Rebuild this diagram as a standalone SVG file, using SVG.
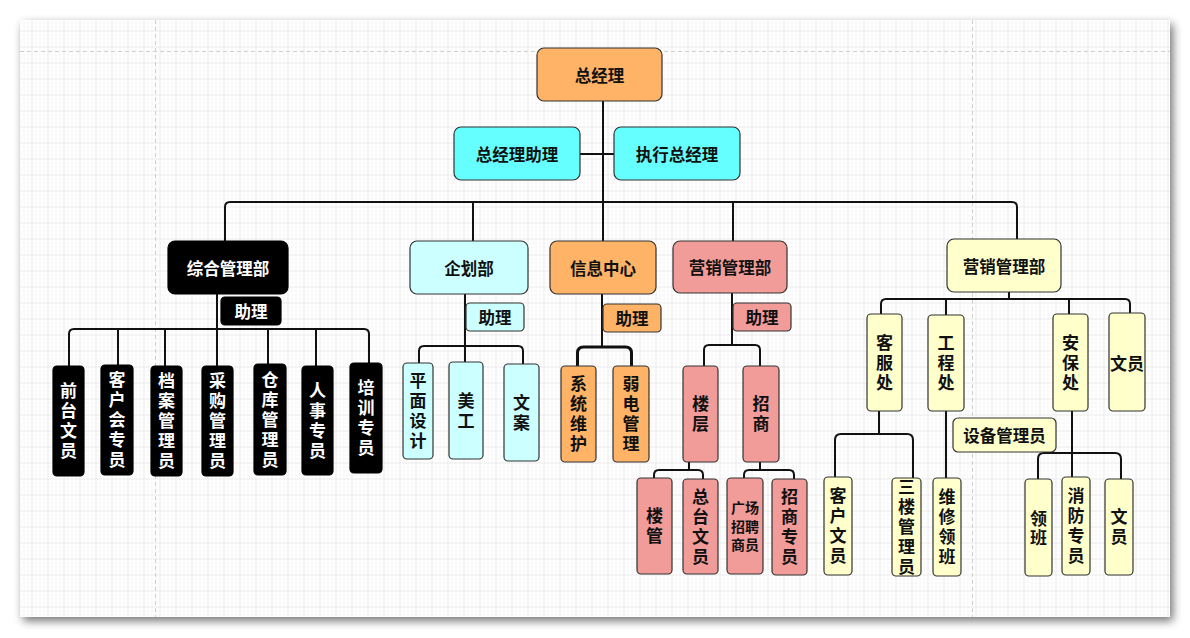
<svg xmlns="http://www.w3.org/2000/svg" width="1190" height="638" viewBox="0 0 1190 638">
<defs>
<filter id="sh" x="-5%" y="-5%" width="110%" height="115%">
<feGaussianBlur in="SourceAlpha" stdDeviation="5"/>
<feOffset dx="3" dy="4" result="b"/>
<feComponentTransfer><feFuncA type="linear" slope="0.55"/></feComponentTransfer>
<feMerge><feMergeNode/><feMergeNode in="SourceGraphic"/></feMerge>
</filter>
<pattern id="minor" patternUnits="userSpaceOnUse" x="15.5" y="14.5" width="4" height="4">
<path d="M0 0 H4 M0 0 V4" fill="none" stroke="#f1f1f1" stroke-width="1"/>
</pattern>
<pattern id="major" patternUnits="userSpaceOnUse" x="15.5" y="14.5" width="16" height="16">
<path d="M0 0 H16 M0 0 V16" fill="none" stroke="#e2e2e2" stroke-width="1"/>
</pattern>
<style>
.n{stroke:#333;stroke-width:1.2}
.or{fill:#FFB366}.cy{fill:#66FFFF}.lc{fill:#CCFFFF}.bk{fill:#000;stroke:#000}.pk{fill:#F19C99}.ye{fill:#FFFFCC}
text{font-family:"Noto Sans CJK SC","Noto Sans",sans-serif;font-weight:bold;font-size:17px;text-anchor:middle;dominant-baseline:central;fill:#111}
.v{writing-mode:vertical-rl;letter-spacing:3px}
.w{fill:#fff}
.h{font-size:16.5px}
.s{font-size:14px}
.c path{fill:none;stroke:#111;stroke-width:2;stroke-linejoin:round}
.pb{stroke:#cfcfcf;stroke-width:1;stroke-dasharray:4 3;fill:none}
</style>
</defs>
<rect width="1190" height="638" fill="#ffffff"/>
<rect x="20" y="20" width="1150" height="597" fill="#fff" filter="url(#sh)"/>
<rect x="20" y="20" width="1150" height="597" fill="url(#minor)"/>
<rect x="20" y="20" width="1150" height="597" fill="url(#major)"/>
<path class="pb" d="M155.5 20 V617 M972.5 20 V617 M20 51.5 H1170"/>

<g class="c" id="connectors">
<path d="M603 101 V241"/>
<path d="M580 154 H614"/>
<path d="M225 241 V207 Q225 202 230 202 H1012 Q1017 202 1017 207 V239"/>
<path d="M473 202 V241 M733 202 V241"/>
<path d="M217 294 V366"/>
<path d="M69 366 V334 Q69 329 74 329 H364 Q369 329 369 334 V363"/>
<path d="M118 329 V365 M165 329 V366 M268 329 V364 M316 329 V366"/>
<path d="M465 294 V362"/>
<path d="M419 363 V351 Q419 346 424 346 H518 Q523 346 523 351 V364"/>
<path d="M602 294 V347"/>
<path d="M577.5 366 V353 Q577.5 347 583.5 347 H625.5 Q631.5 347 631.5 353 V366" style="stroke-width:3"/>
<path d="M732 293 V345"/>
<path d="M704 366 V350 Q704 345 709 345 H755 Q760 345 760 350 V366"/>
<path d="M689 462 V470"/>
<path d="M654 478 V475 Q654 470 659 470 H698 Q703 470 703 475 V479"/>
<path d="M760 462 V470"/>
<path d="M744 478 V475 Q744 470 749 470 H789 Q794 470 794 475 V479"/>
<path d="M1009 292 V299"/>
<path d="M881 314 V304 Q881 299 886 299 H1125 Q1130 299 1130 304 V313"/>
<path d="M946 299 V315 M1069 299 V314"/>
<path d="M879 411 V434"/>
<path d="M835 477 V440 Q835 434 841 434 H907 Q913 434 913 440 V478"/>
<path d="M946 411 V478"/>
<path d="M1072 411 V477"/>
<path d="M1038 479 V459 Q1038 453 1044 453 H1115 Q1121 453 1121 459 V479"/>
</g>

<g id="gm"><rect class="n or" x="537" y="48" width="125" height="53" rx="7"/><text class="h" x="599.5" y="75">总经理</text></g>
<g id="gm_assistant"><rect class="n cy" x="454" y="127" width="126" height="53" rx="7"/><text class="h" x="517" y="154">总经理助理</text></g>
<g id="exec_gm"><rect class="n cy" x="614" y="127" width="126" height="53" rx="7"/><text class="h" x="677" y="154">执行总经理</text></g>

<g id="zonghe"><rect class="n bk" x="168" y="241" width="120" height="53" rx="7"/><text class="h w" x="228" y="268">综合管理部</text></g>
<g id="zonghe_asst"><rect class="n bk" x="221" y="297" width="60" height="28" rx="4"/><text class="h w" x="251" y="311">助理</text></g>
<g id="qiantai"><rect class="n bk" x="53" y="366" width="31" height="110" rx="4"/><text class="v w" x="68.5" y="422.5">前台文员</text></g>
<g id="kehuhui"><rect class="n bk" x="101" y="365" width="32" height="110" rx="4"/><text class="v w" x="117" y="421.5">客户会专员</text></g>
<g id="dangan"><rect class="n bk" x="151" y="366" width="31" height="110" rx="4"/><text class="v w" x="166.5" y="422.5">档案管理员</text></g>
<g id="caigou"><rect class="n bk" x="202" y="366" width="31" height="110" rx="4"/><text class="v w" x="217.5" y="422.5">采购管理员</text></g>
<g id="cangku"><rect class="n bk" x="254" y="364" width="32" height="111" rx="4"/><text class="v w" x="270" y="421">仓库管理员</text></g>
<g id="renshi"><rect class="n bk" x="302" y="366" width="31" height="109" rx="4"/><text class="v w" x="317.5" y="422">人事专员</text></g>
<g id="peixun"><rect class="n bk" x="350" y="363" width="32" height="110" rx="4"/><text class="v w" x="366" y="419.5">培训专员</text></g>

<g id="qihua"><rect class="n lc" x="410" y="241" width="118" height="53" rx="7"/><text class="h" x="469" y="268">企划部</text></g>
<g id="qihua_asst"><rect class="n lc" x="466" y="303" width="58" height="28" rx="4"/><text class="h" x="495" y="317">助理</text></g>
<g id="pingmian"><rect class="n lc" x="403" y="363" width="30" height="96" rx="4"/><text class="v" x="418" y="412.5">平面设计</text></g>
<g id="meigong"><rect class="n lc" x="449" y="362" width="34" height="97" rx="4"/><text class="v" x="466" y="412">美工</text></g>
<g id="wenan"><rect class="n lc" x="504" y="364" width="35" height="97" rx="4"/><text class="v" x="521.5" y="414">文案</text></g>

<g id="xinxi"><rect class="n or" x="550" y="241" width="106" height="53" rx="7"/><text class="h" x="603" y="268">信息中心</text></g>
<g id="xinxi_asst"><rect class="n or" x="603" y="304" width="58" height="28" rx="4"/><text class="h" x="632" y="318">助理</text></g>
<g id="xitong"><rect class="n or" x="561" y="366" width="35" height="96" rx="4"/><text class="v" x="578.5" y="415.5">系统维护</text></g>
<g id="ruodian"><rect class="n or" x="613" y="366" width="36" height="96" rx="4"/><text class="v" x="631" y="415.5">弱电管理</text></g>

<g id="yingxiao1"><rect class="n pk" x="673" y="241" width="114" height="52" rx="7"/><text class="h" x="730" y="267">营销管理部</text></g>
<g id="yingxiao1_asst"><rect class="n pk" x="733" y="303" width="58" height="28" rx="4"/><text class="h" x="762" y="317">助理</text></g>
<g id="louceng"><rect class="n pk" x="683" y="366" width="35" height="96" rx="4"/><text class="v" x="700.5" y="415.5">楼层</text></g>
<g id="zhaoshang"><rect class="n pk" x="743" y="366" width="36" height="96" rx="4"/><text class="v" x="761" y="415.5">招商</text></g>
<g id="louguan"><rect class="n pk" x="637" y="478" width="35" height="96" rx="4"/><text class="v" x="654.5" y="527.5">楼管</text></g>
<g id="zongtai"><rect class="n pk" x="683" y="479" width="35" height="95" rx="4"/><text class="v" x="700.5" y="528">总台文员</text></g>
<g id="guangchang"><rect class="n pk" x="727" y="478" width="36" height="96" rx="4"/><text class="s"><tspan x="745" y="507">广场</tspan><tspan x="745" y="525.5">招聘</tspan><tspan x="745" y="544">商员</tspan></text></g>
<g id="zhaoshang_zy"><rect class="n pk" x="772" y="479" width="35" height="96" rx="4"/><text class="v" x="789.5" y="528.5">招商专员</text></g>

<g id="yingxiao2"><rect class="n ye" x="947" y="239" width="114" height="53" rx="7"/><text class="h" x="1004" y="266">营销管理部</text></g>
<g id="kefu"><rect class="n ye" x="867" y="314" width="35" height="97" rx="4"/><text class="v" x="884.5" y="364">客服处</text></g>
<g id="gongcheng"><rect class="n ye" x="928" y="315" width="36" height="96" rx="4"/><text class="v" x="946" y="364.5">工程处</text></g>
<g id="anbao"><rect class="n ye" x="1053" y="314" width="35" height="97" rx="4"/><text class="v" x="1070.5" y="364">安保处</text></g>
<g id="wenyuan1"><rect class="n ye" x="1109" y="313" width="36" height="98" rx="4"/><text x="1127" y="362">文员</text></g>
<g id="shebei"><rect class="n ye" x="953" y="418" width="103" height="34" rx="5"/><text class="h" x="1004.5" y="435">设备管理员</text></g>
<g id="kehu_wy"><rect class="n ye" x="824" y="477" width="28" height="98" rx="4"/><text class="v" x="838" y="527.5">客户文员</text></g>
<g id="sanlou"><rect class="n ye" x="892" y="478" width="29" height="98" rx="4"/><text class="v" x="906.5" y="528.5">三楼管理员</text></g>
<g id="weixiu"><rect class="n ye" x="933" y="478" width="28" height="98" rx="4"/><text class="v" x="947" y="528.5">维修领班</text></g>
<g id="lingban"><rect class="n ye" x="1025" y="479" width="27" height="97" rx="4"/><text class="v" x="1038.5" y="529" style="letter-spacing:2px">领班</text></g>
<g id="xiaofang"><rect class="n ye" x="1062" y="477" width="28" height="98" rx="4"/><text class="v" x="1076" y="527.5">消防专员</text></g>
<g id="wenyuan2"><rect class="n ye" x="1105" y="479" width="28" height="96" rx="4"/><text class="v" x="1119" y="528.5">文员</text></g>
</svg>
